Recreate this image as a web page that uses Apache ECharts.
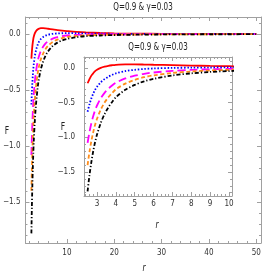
<!DOCTYPE html>
<html><head><meta charset="utf-8">
<script src="https://cdn.jsdelivr.net/npm/echarts@6/dist/echarts.min.js"></script>
<style>html,body{margin:0;padding:0;background:#fff}#c{width:266px;height:280px}</style>
</head><body><div id="c"></div>
<script>
const titleText = "Q=0.9 & γ=0.03";
const r = [2.5,2.6,2.7,2.8,2.9,3.0,3.2,3.4,3.6,3.8,4.0,4.5,5,5.5,6,7,8,9,10,12,14,17,20,25,30,35,40,45,50];
const fRed = [-0.22,-0.16,-0.11,-0.075,-0.045,-0.025,0.003,0.02,0.032,0.04,0.046,0.052,0.052,0.05,0.047,0.041,0.035,0.03,0.026,0.019,0.014,0.009,0.006,0.003,0.002,0.001,0.001,0.0005,0];
const fBlue = [-0.63,-0.525,-0.438,-0.37,-0.314,-0.271,-0.206,-0.16,-0.126,-0.099,-0.077,-0.044,-0.026,-0.014,-0.006,0.002,0.005,0.007,0.008,0.007,0.005,0.003,0.002,0.001,0,0,0,0,0];
const fMagenta = [-1.08,-0.925,-0.798,-0.694,-0.608,-0.541,-0.436,-0.358,-0.299,-0.252,-0.212,-0.15,-0.111,-0.083,-0.065,-0.041,-0.027,-0.018,-0.013,-0.007,-0.004,-0.003,-0.002,-0.002,-0.001,-0.001,-0.001,-0.001,-0.001];
const fOrange = [-1.40,-1.21,-1.054,-0.925,-0.818,-0.733,-0.599,-0.499,-0.422,-0.361,-0.308,-0.225,-0.172,-0.133,-0.106,-0.071,-0.05,-0.036,-0.027,-0.016,-0.011,-0.008,-0.005,-0.004,-0.003,-0.002,-0.002,-0.001,-0.001];
const fBlack = [-1.78,-1.548,-1.358,-1.198,-1.067,-0.961,-0.793,-0.666,-0.569,-0.49,-0.422,-0.315,-0.244,-0.192,-0.156,-0.107,-0.077,-0.057,-0.044,-0.028,-0.019,-0.013,-0.009,-0.006,-0.004,-0.003,-0.002,-0.002,-0.001];

const mainXMajor = [10,20,30,40,50];
const mainXMinor = [2,4,6,8,12,14,16,18,22,24,26,28,32,34,36,38,42,44,46,48];
const yMajor = [-1.5,-1.0,-0.5,0.0];
const yMinor = [-1.8,-1.7,-1.6,-1.4,-1.3,-1.2,-1.1,-0.9,-0.8,-0.7,-0.6,-0.4,-0.3,-0.2,-0.1,0.1];
const insetXMajor = [3,4,5,6,7,8,9,10];
const insetXMinor = [2.4,2.6,2.8,3.2,3.4,3.6,3.8,4.2,4.4,4.6,4.8,5.2,5.4,5.6,5.8,6.2,6.4,6.6,6.8,7.2,7.4,7.6,7.8,8.2,8.4,8.6,8.8,9.2,9.4,9.6,9.8];

const FONT = "'Liberation Sans Narrow','DejaVu Sans Condensed','Roboto Condensed','Liberation Sans',sans-serif";
const frameColor = '#a0a0a0';
const labelColor = '#333';

function pairs(ys){ return r.map((x,i)=>[x, ys[i]]); }
function fmtY(v){ return (v<0?'\u2212':'') + Math.abs(v).toFixed(1); }

function axisSet(grid, min, max, major, minor, labelFmt, pos, pos2, margin){
  const base = {type:'value', gridIndex:grid, min:min, max:max, splitLine:{show:false}, scale:true};
  const out = [];
  out.push(Object.assign({}, base, {position:pos,
    axisLine:{show:true, onZero:false, lineStyle:{color:frameColor,width:1}},
    axisTick:{show:true, inside:true, length:4, customValues:major, lineStyle:{color:frameColor}},
    axisLabel:{show:true, customValues:major, formatter:labelFmt, color:labelColor, fontSize:8, fontFamily:FONT, margin:margin}}));
  out.push(Object.assign({}, base, {position:pos,
    axisLine:{show:false, onZero:false},
    axisTick:{show:true, inside:true, length:2, customValues:minor, lineStyle:{color:frameColor}},
    axisLabel:{show:false}}));
  out.push(Object.assign({}, base, {position:pos2,
    axisLine:{show:true, onZero:false, lineStyle:{color:frameColor,width:1}},
    axisTick:{show:true, inside:true, length:4, customValues:major, lineStyle:{color:frameColor}},
    axisLabel:{show:false}}));
  out.push(Object.assign({}, base, {position:pos2,
    axisLine:{show:false, onZero:false},
    axisTick:{show:true, inside:true, length:2, customValues:minor, lineStyle:{color:frameColor}},
    axisLabel:{show:false}}));
  return out;
}

const xAxes = [].concat(
  axisSet(0,1.25,51,mainXMajor,mainXMinor,v=>String(Math.round(v)),'bottom','top',6),
  axisSet(1,2.31,10.16,insetXMajor,insetXMinor,v=>String(Math.round(v)),'bottom','top',4)
);
const yAxes = [].concat(
  axisSet(0,-1.866,0.152,yMajor,yMinor,fmtY,'left','right',5),
  axisSet(1,-1.847,0.159,yMajor,yMinor,fmtY,'left','right',9)
);

const styles = [
  {data:fRed, color:'#ff0000', type:'solid', width:1.8},
  {data:fBlue, color:'#0000ff', type:[1.5,1.8], width:1.8},
  {data:fMagenta, color:'#ff00ff', type:[8,4], width:1.8},
  {data:fOrange, color:'#ff8c1a', type:[4,2.5], width:1.8},
  {data:fBlack, color:'#000000', type:[4,2,1.2,2], width:1.8}
];
const series = [];
[[0,0],[4,4]].forEach(([xi,yi])=>{
  styles.forEach(s=>{
    series.push({type:'line', xAxisIndex:xi, yAxisIndex:yi, data:pairs(s.data), showSymbol:false, symbol:'none',
      smooth:0.3, clip:true, animation:false,
      lineStyle:{color:s.color, width:s.width, type:s.type, cap:'butt'}});
  });
});

function txt(x,y,t,size,sx,italic){
  return {type:'text', x:x, y:y, scaleX:sx, style:{text:t, fontSize:size, fontStyle:italic?'italic':'normal', fontFamily:FONT, fill:'#222', align:'center', verticalAlign:'middle'}};
}

const chart = echarts.init(document.getElementById('c'), null, {renderer:'canvas'});
chart.setOption({
  animation:false,
  backgroundColor:'#fff',
  grid:[
    {left:25, top:17, width:236, height:226, containLabel:false},
    {left:84, top:57, width:148, height:139, containLabel:false, show:true, backgroundColor:'#fff', borderWidth:0}
  ],
  xAxis:xAxes,
  yAxis:yAxes,
  series:series,
  graphic:[
    txt(143,7,titleText,10.5,0.76,false),
    txt(158,47,titleText,10.5,0.76,false),
    txt(7,131,'F',10,0.85,false),
    txt(63,127,'F',10,0.85,false),
    txt(144,268,'r',10,0.85,true),
    txt(157,225,'r',10,0.85,true)
  ]
});
</script></body></html>
